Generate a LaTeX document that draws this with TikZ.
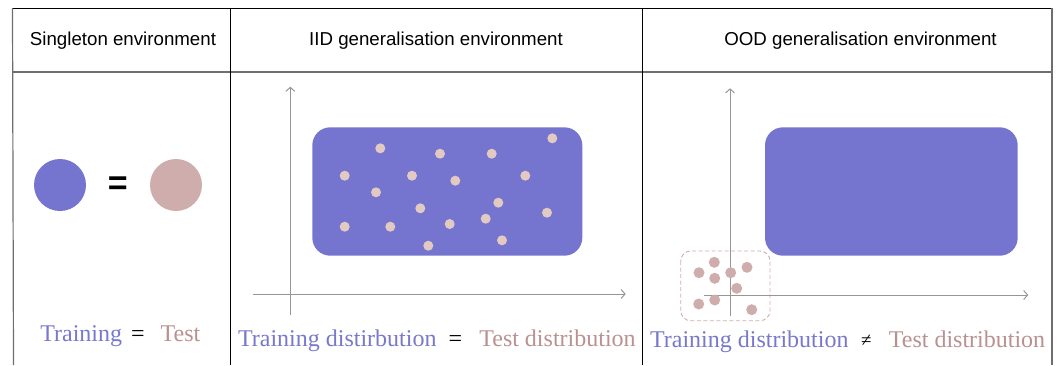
\documentclass[tikz,border=0pt]{standalone}
\usepackage{fontspec}
\setmainfont{Liberation Serif}
\newfontfamily\headfont{Liberation Sans}
\usetikzlibrary{arrows.meta}
\definecolor{trainblue}{RGB}{117,117,207}
\definecolor{testpink}{RGB}{207,173,173}
\definecolor{dotbeige}{RGB}{226,202,194}
\definecolor{traintext}{RGB}{120,120,204}
\definecolor{testtext}{RGB}{186,145,145}
\definecolor{axisgray}{RGB}{150,150,150}
\definecolor{rulegray}{RGB}{110,110,110}
\begin{document}
\begin{tikzpicture}[x=1pt,y=-1pt,
  header/.style={font=\headfont\fontsize{18.7}{20}\selectfont, inner sep=0pt, anchor=base},
  caption/.style={font=\fontsize{24}{26}\selectfont, inner sep=0pt, anchor=base},
  axis/.style={draw=axisgray, line width=1pt, -{Straight Barb[length=4pt,width=9pt]}},
  region/.style={fill=trainblue, rounded corners=18pt},
  sample/.style={circle, fill=dotbeige, inner sep=0pt, minimum size=10pt},
  oodsample/.style={circle, fill=testpink, inner sep=0pt, minimum size=11pt},
]
\useasboundingbox (0,0) rectangle (1059,365);

% table frame
\draw[line width=1pt] (12,8) -- (1052,8);
\draw[rulegray, line width=1.6pt] (12,72) -- (1052,72);
\draw[rulegray, line width=1.2pt] (12.5,8) -- (13.5,365);
\draw[line width=1pt] (230,8) -- (230,365);
\draw[line width=1pt] (642,8) -- (642,365);
\draw[rulegray, line width=1.2pt] (1052,8) -- (1052,365);

% column headers
\node[header] (h1) at (123,45.7) {Singleton environment};
\node[header] (h2) at (436,45.7) {IID generalisation environment};
\node[header] (h3) at (860.5,45.7) {OOD generalisation environment};

% singleton environment
\node[circle, fill=trainblue, minimum size=52pt, inner sep=0pt] (train) at (60,185) {};
\node[font=\headfont\bfseries\fontsize{34}{34}\selectfont, inner sep=0pt] (eqbig) at (117.7,185.5) {=};
\node[circle, fill=testpink, minimum size=52pt, inner sep=0pt] (test) at (176,185) {};
\node[caption, text=traintext] (c1a) at (81.2,341.7) {Training};
\node[caption] (c1b) at (138,341.7) {=};
\node[caption, text=testtext] (c1c) at (180.5,341.7) {Test};

% IID generalisation environment
\coordinate (iidYb) at (290.3,315);
\coordinate (iidYt) at (290.3,86.7);
\coordinate (iidXl) at (252.7,294);
\coordinate (iidXr) at (625.7,294);
\draw[axis] (iidYb) -- (iidYt);
\draw[axis] (iidXl) -- (iidXr);
\fill[region] (312.3,127.3) rectangle (582.3,255.7);
\foreach \px/\py [count=\i] in {380.3/148.3, 440/153.7, 491.7/153.7, 552.3/138.3,
    344.7/175.7, 412/175.7, 455.3/180.7, 525.3/175.7, 376/192.3, 420.3/208.3,
    498.3/202.7, 547/212.7, 344.7/226.7, 390.3/226.7, 449.7/224, 485.7/218.7,
    428.3/245.7, 502/240.3}
  \node[sample] (iid\i) at (\px,\py) {};
\node[caption, text=traintext] (c2a) at (337.3,346.7) {Training distirbution};
\node[caption] (c2b) at (455.3,346.7) {=};
\node[caption, text=testtext] (c2c) at (557.5,346.7) {Test distribution};

% OOD generalisation environment
\fill[region] (765,127.3) rectangle (1017.7,255.7);
\draw[testpink, line width=0.9pt, dash pattern=on 4pt off 2.5pt, rounded corners=10pt]
  (680.7,251) rectangle (770,320.7);
\coordinate (oodYb) at (730,316);
\coordinate (oodYt) at (730,88.3);
\coordinate (oodXl) at (704,295);
\coordinate (oodXr) at (1028.3,295);
\draw[axis] (oodYb) -- (oodYt);
\draw[axis] (oodXl) -- (oodXr);
\foreach \px/\py [count=\i] in {714.3/262.3, 699/272.7, 730.7/272.7, 747/267.3,
    714.7/278.3, 736.7/288.3, 714.7/300, 698.7/304, 751.7/309.7}
  \node[oodsample] (ood\i) at (\px,\py) {};
\node[caption, text=traintext] (c3a) at (749.3,347.3) {Training distribution};
\node[caption, font=\fontsize{19}{20}\selectfont] (c3b) at (866.3,346.3) {≠};
\node[caption, text=testtext] (c3c) at (967,347.3) {Test distribution};
\end{tikzpicture}
\end{document}
